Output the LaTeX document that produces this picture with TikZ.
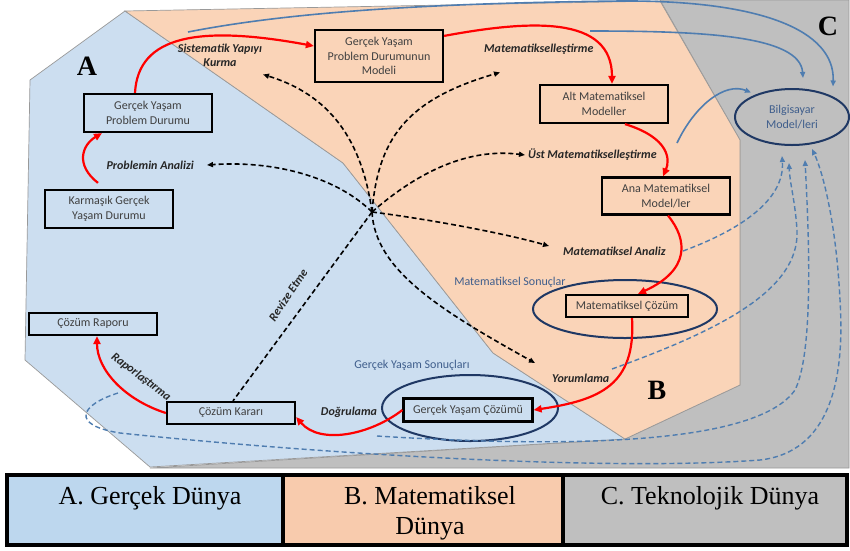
\documentclass[tikz,border=0pt]{standalone}
\usepackage{fontspec}
\setmainfont{Carlito}
\newfontfamily\tnr{Liberation Serif}
\usetikzlibrary{arrows.meta,calc,shapes.geometric}
\definecolor{bluefill}{HTML}{CCDEF0}
\definecolor{peach}{HTML}{FAD4B8}
\definecolor{grayfill}{HTML}{BFBFBF}
\definecolor{navy}{HTML}{1F3864}
\definecolor{steel}{HTML}{4F7DB0}
\definecolor{slate}{HTML}{3F5E8C}
\definecolor{legA}{HTML}{BDD7EE}
\definecolor{legB}{HTML}{F8CBAD}
\definecolor{legC}{HTML}{BFBFBF}
\begin{document}
\begin{tikzpicture}[x=1pt,y=-1pt,
  box/.style={draw=black,line width=2.2pt,minimum width=128pt,inner sep=1pt,align=center,text=black!75,font=\fontsize{12}{14.5}\selectfont},
  lab/.style={inner sep=0pt,align=center,text=black!85,font=\fontsize{12}{14}\selectfont\bfseries\itshape},
  blab/.style={inner sep=0pt,text=slate,font=\fontsize{12}{14.5}\selectfont},
  ring/.style={draw=navy,line width=2pt,ellipse,inner sep=0pt},
  redarr/.style={draw=red,line width=2.2pt,-{Triangle[length=8pt,width=7pt]}},
  blkdash/.style={draw=black,line width=1.6pt,dash pattern=on 5pt off 3pt,-{Triangle[length=6pt,width=5pt]}},
  bluesolid/.style={draw=steel,line width=1.6pt,-{Triangle[length=6pt,width=5pt]}},
  bluedash/.style={draw=steel,line width=1.4pt,dash pattern=on 5pt off 3pt,-{Triangle[length=6pt,width=5pt]}},
  region/.style={draw=black!40,line width=0.7pt},
  bigl/.style={font=\tnr\fontsize{28}{30}\selectfont\bfseries,inner sep=0pt},
  legcell/.style={draw=black,line width=4pt,minimum height=70pt,anchor=north west,outer sep=0pt},
  legtext/.style={font=\tnr\fontsize{26}{30}\selectfont,align=center,anchor=base,inner sep=0pt}
]
\fill[white] (0,0) rectangle (850,550);
\useasboundingbox (0,0) rectangle (850,550);

% regions
\draw[region,fill=grayfill] (660,0) -- (849,0) -- (849,468) -- (150,468) -- (625,439) -- (740,385) -- (740,140) -- cycle;
\draw[region,fill=bluefill] (125,11) -- (30,80) -- (25,360) -- (150,467) -- (625,439) -- (493,353) -- (343,163) -- cycle;
\draw[region,fill=peach] (125,11) -- (660,1) -- (740,140) -- (740,385) -- (625,439) -- (493,353) -- (343,163) -- cycle;

% legend
\node[legcell,fill=legA,minimum width=276pt] (la) at (7,475) {};
\node[legcell,fill=legB,minimum width=280pt] (lb) at (283,475) {};
\node[legcell,fill=legC,minimum width=284pt] (lc) at (563,475) {};
\node[legtext] (ta) at (150,504) {A. Gerçek Dünya};
\node[legtext] (tb) at (430,534) {B. Matematiksel\\Dünya};
\node[legtext] (tc) at (710,504) {C. Teknolojik Dünya};

% big letters
\node[bigl] (A) at (87,66) {A};
\node[bigl] (B) at (657,390) {B};
\node[bigl] (C) at (828,26) {C};

% rings
\node[ring,minimum width=184pt,minimum height=58pt] (emc) at (625,309) {};
\node[ring,minimum width=176pt,minimum height=66pt] (egc) at (470,408) {};
\node[ring,minimum width=114pt,minimum height=56pt,text=slate,align=center,font=\fontsize{12}{14.5}\selectfont] (bilg) at (792,117) {Bilgisayar\\Model/leri};

% boxes
\node[box,minimum height=38pt] (gyp) at (148,113) {Gerçek Yaşam\\Problem Durumu};
\node[box,minimum height=38pt] (kar) at (109,209) {Karmaşık Gerçek\\Yaşam Durumu};
\node[box,minimum height=52pt] (mod) at (379,56) {Gerçek Yaşam\\Problem Durumunun\\Modeli};
\node[box,minimum height=38pt] (alt) at (604,104) {Alt Matematiksel\\Modeller};
\node[box,minimum height=37pt] (ana) at (666,196) {Ana Matematiksel\\Model/ler};
\node[box,minimum width=122pt,minimum height=22pt] (mcoz) at (627,306) {Matematiksel Çözüm};
\node[box,minimum width=129pt,minimum height=23pt] (gcoz) at (468,410) {Gerçek Yaşam Çözümü};
\node[box,minimum height=22pt] (karar) at (231,413) {Çözüm Kararı};
\node[box,minimum height=22pt] (rapor) at (93,324) {Çözüm Raporu};

% labels
\node[lab] (sys) at (220,55) {Sistematik Yapıyı\\Kurma};
\node[lab,anchor=east] (pa) at (194,165) {Problemin Analizi};
\node[lab,anchor=west] (mat) at (484,49) {Matematikselleştirme};
\node[lab,anchor=west] (ust) at (528,155) {Üst Matematikselleştirme};
\node[lab,anchor=west] (ma) at (563,251) {Matematiksel Analiz};
\node[lab,anchor=west] (yor) at (552,378) {Yorumlama};
\node[lab] (dog) at (349,412) {Doğrulama};
\node[lab,rotate=-37] (rap) at (141,377) {Raporlaştırma};
\node[lab,rotate=56] (rev) at (288,295) {Revize Etme};
\node[blab] (msn) at (510,282) {Matematiksel Sonuçlar};
\node[blab] (gsn) at (412,365) {Gerçek Yaşam Sonuçları};

\coordinate (hub) at (372,212);

% red flow
\draw[redarr] ([xshift=-11pt,yshift=6pt]kar.north) .. controls (75,165) and (82,145) .. ([xshift=-46pt]gyp.south);
\draw[redarr] ([xshift=-13pt]gyp.north) .. controls (138,35) and (200,25) .. ([yshift=10pt]mod.west);
\draw[redarr] ([yshift=-7pt]mod.north east) .. controls (530,20) and (612,15) .. ([xshift=8pt]alt.north);
\draw[redarr] ([xshift=21pt]alt.south) .. controls (670,138) and (670,160) .. ([xshift=-3pt]ana.north);
\draw[redarr] ([xshift=2pt]ana.south) .. controls (688,240) and (690,270) .. ([xshift=11pt]mcoz.north);
\draw[redarr] ([xshift=5pt]mcoz.south) .. controls (636,385) and (600,400) .. (gcoz.east);
\draw[redarr] (gcoz.west) .. controls (370,435) and (320,445) .. ([yshift=-4pt]karar.east);
\draw[redarr] (karar.west) .. controls (125,400) and (97,370) .. ([xshift=4pt]rapor.south);

% black dashed
\draw[blkdash] (hub) .. controls (340,180) and (280,160) .. ([xshift=13pt]pa.east);
\draw[blkdash] (hub) .. controls (362,140) and (330,95) .. ([xshift=43pt,yshift=-8pt]sys.south);
\draw[blkdash] (hub) .. controls (378,140) and (405,100) .. ([xshift=16pt,yshift=-18pt]mat.south west);
\draw[blkdash] (hub) .. controls (420,170) and (470,148) .. ([xshift=-3pt]ust.west);
\draw[blkdash] (hub) .. controls (420,218) and (500,232) .. ([xshift=-14pt,yshift=5pt]ma.west);
\draw[blkdash] (hub) .. controls (375,270) and (440,310) .. ([xshift=-17pt,yshift=15pt]yor.west);
\draw[black,line width=1.6pt,dash pattern=on 5pt off 3pt] (hub) -- ([xshift=2pt]karar.north);

% blue connectors
\coordinate (s1) at (188,32);
\coordinate (s2) at (590,31);
\coordinate (s3) at (677,143);
\coordinate (s4) at (377,436);
\coordinate (s5) at (118,393);
\coordinate (s6) at (683,251);
\coordinate (s7) at (612,369);
\draw[bluesolid] (s1) .. controls (300,10) and (450,3) .. (620,1) .. controls (760,0) and (835,30) .. ([yshift=10pt]bilg.north east);
\draw[bluesolid] (s2) .. controls (700,31) and (800,35) .. ([xshift=11pt,yshift=10pt]bilg.north);
\draw[bluesolid] (s3) .. controls (695,105) and (725,82) .. ([yshift=4pt]bilg.north west);
\draw[bluedash] (s6) .. controls (740,230) and (785,200) .. ([xshift=-10pt,yshift=-10pt]bilg.south);
\draw[bluedash] (s7) .. controls (720,330) and (800,290) .. (797,230) .. controls (795,200) and (790,185) .. ([xshift=-3pt,yshift=-17pt]bilg.south);
\draw[bluedash] (s4) .. controls (600,450) and (760,440) .. (795,390) .. controls (815,350) and (808,220) .. ([xshift=13pt,yshift=-14pt]bilg.south);
\draw[bluedash] (s5) .. controls (80,405) and (70,425) .. (120,433) .. controls (300,452) and (600,472) .. (760,460) .. controls (830,452) and (845,380) .. (840,300) .. controls (836,220) and (822,170) .. ([xshift=20pt,yshift=-3pt]bilg.south);
\end{tikzpicture}
\end{document}
